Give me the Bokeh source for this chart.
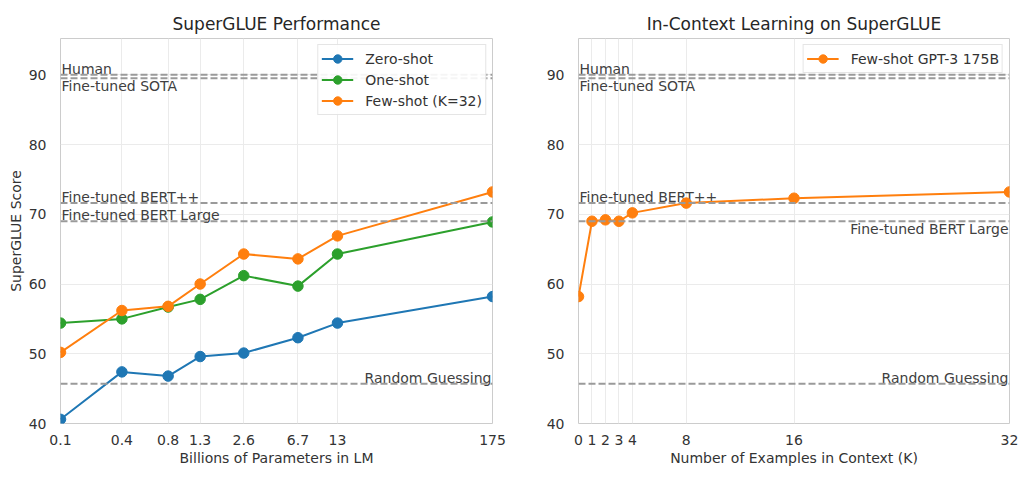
from bokeh.plotting import figure
from bokeh.layouts import row
from bokeh.models import FixedTicker, Span, Range1d
from bokeh.core.properties import value
from bokeh.embed import file_html
from bokeh.resources import INLINE

# ---- data ----
params_b = [0.125, 0.35, 0.76, 1.3, 2.7, 6.7, 13, 175]
params_labels = ["0.1", "0.4", "0.8", "1.3", "2.6", "6.7", "13", "175"]
zero_shot = [40.6, 47.4, 46.8, 49.6, 50.1, 52.3, 54.4, 58.2]
one_shot = [54.4, 55.0, 56.7, 57.8, 61.2, 59.7, 64.3, 68.9]
few_shot = [50.2, 56.2, 56.8, 60.0, 64.3, 63.6, 66.9, 73.2]

k_values = [0, 1, 2, 3, 4, 8, 16, 32]
k_scores = [58.2, 69.0, 69.2, 69.0, 70.2, 71.6, 72.3, 73.2]

ref_names = ["Human", "Fine-tuned SOTA", "Fine-tuned BERT++", "Fine-tuned BERT Large", "Random Guessing"]
ref_values = [90.0, 89.5, 71.6, 69.0, 45.7]
# label placement: (side, vertical)
left_place = [("left", "above"), ("left", "below"), ("left", "above"), ("left", "above"), ("right", "above")]
right_place = [("left", "above"), ("left", "below"), ("left", "above"), ("right", "below"), ("right", "above")]

y_ticks = [40, 50, 60, 70, 80, 90]

BLUE, ORANGE, GREEN = "#1f77b4", "#ff7f0e", "#2ca02c"
FONT = "DejaVu Sans"
TXT = "#333333"


def style(p, title):
    p.title.text = title
    p.title.align = "center"
    p.title.text_font = FONT
    p.title.text_font_size = "17px"
    p.title.text_font_style = "normal"
    p.title.text_color = "#262626"
    p.outline_line_color = "#cccccc"
    p.outline_line_width = 1
    p.background_fill_color = "white"
    p.border_fill_color = "white"
    for ax in p.axis:
        ax.axis_line_color = None
        ax.major_tick_line_color = None
        ax.minor_tick_line_color = None
        ax.major_label_text_font = FONT
        ax.major_label_text_font_size = "14px"
        ax.major_label_text_color = TXT
        ax.axis_label_text_font = FONT
        ax.axis_label_text_font_size = "14px"
        ax.axis_label_text_font_style = "normal"
        ax.axis_label_text_color = TXT
        ax.major_label_standoff = 5
        ax.axis_label_standoff = 2
    p.grid.grid_line_color = "#ebebeb"
    p.grid.grid_line_width = 1
    p.yaxis.ticker = FixedTicker(ticks=y_ticks)
    p.yaxis.major_label_standoff = 8


def add_refs(p, x_left, x_right, places):
    for name, val, (side, vert) in zip(ref_names, ref_values, places):
        p.add_layout(Span(location=val, dimension="width", line_color="#9a9a9a",
                          line_width=2, line_dash="7 3"))
        x = x_left if side == "left" else x_right
        p.text(x=[x], y=[val], text=[name],
               text_align=side, text_baseline="bottom" if vert == "above" else "top",
               x_offset=1 if side == "left" else -1,
               y_offset=2 if vert == "above" else 0,
               text_font=value(FONT), text_font_size="14px", text_color="#404040")


# ---- left figure ----
p1 = figure(width=510, height=490, x_axis_type="log",
            x_range=Range1d(params_b[0], params_b[-1]), y_range=Range1d(40, 95.2),
            output_backend="svg", toolbar_location=None,
            min_border_left=60, min_border_right=18, min_border_top=38, min_border_bottom=67)
style(p1, "SuperGLUE Performance")
p1.xaxis.ticker = FixedTicker(ticks=params_b)
p1.xaxis.major_label_overrides = {v: l for v, l in zip(params_b, params_labels)}
p1.xaxis.axis_label = "Billions of Parameters in LM"
p1.yaxis.axis_label = "SuperGLUE Score"
add_refs(p1, params_b[0], params_b[-1], left_place)

for ys, c, lab in [(zero_shot, BLUE, "Zero-shot"), (one_shot, GREEN, "One-shot"), (few_shot, ORANGE, "Few-shot (K=32)")]:
    p1.line(params_b, ys, line_color=c, line_width=2, legend_label=lab)
    p1.scatter(params_b, ys, size=10.5, fill_color=c, line_color=c, legend_label=lab)

# ---- right figure ----
p2 = figure(width=514, height=490,
            x_range=Range1d(0, 32), y_range=Range1d(40, 95.2),
            output_backend="svg", toolbar_location=None,
            min_border_left=68, min_border_right=15, min_border_top=38, min_border_bottom=67)
style(p2, "In-Context Learning on SuperGLUE")
p2.xaxis.ticker = FixedTicker(ticks=k_values)
p2.xaxis.axis_label = "Number of Examples in Context (K)"
add_refs(p2, 0, 32, right_place)
p2.line(k_values, k_scores, line_color=ORANGE, line_width=2, legend_label="Few-shot GPT-3 175B")
p2.scatter(k_values, k_scores, size=10.5, fill_color=ORANGE, line_color=ORANGE, legend_label="Few-shot GPT-3 175B")

for p in (p1, p2):
    lg = p.legend[0]
    lg.location = "top_right"
    lg.margin = 6
    lg.border_line_color = "#cccccc"
    lg.border_line_width = 1
    lg.background_fill_alpha = 0.9
    lg.label_text_font = FONT
    lg.label_text_font_size = "14px"
    lg.label_text_color = TXT
    lg.glyph_width = 32
    lg.glyph_height = 21
    lg.label_height = 21
    lg.spacing = 0
    lg.padding = 3
    lg.label_standoff = 12
    lg.margin = 6

layout = row(p1, p2)
open("out.html", "w").write(file_html(layout, INLINE))
